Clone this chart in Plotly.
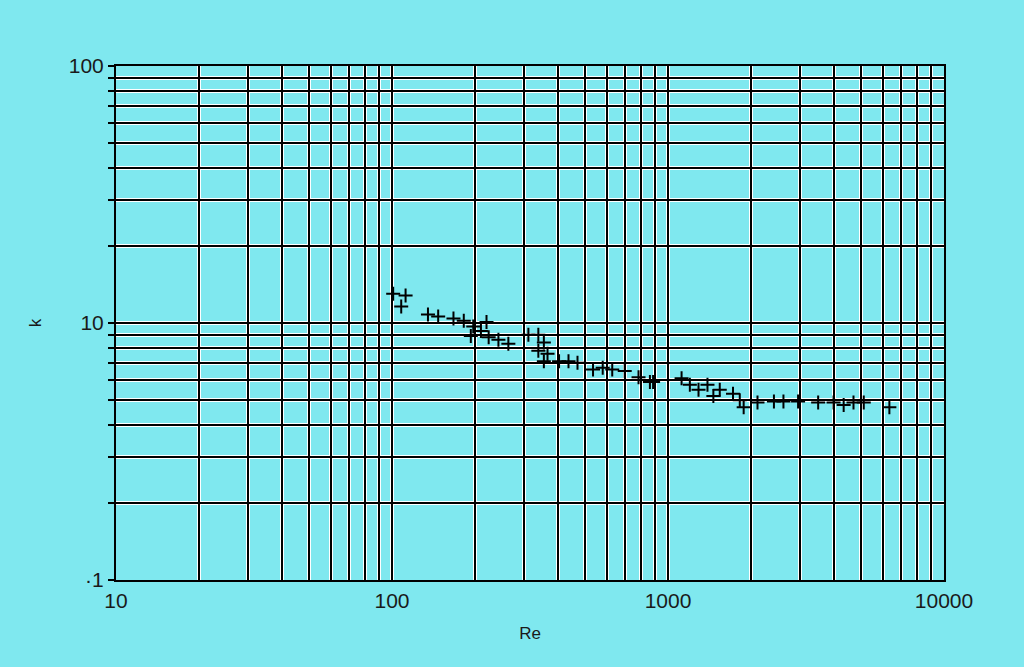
import plotly.graph_objects as go

# Data (Re, k)
re_vals = [101, 112, 108, 135, 147, 167, 182, 197, 210, 220, 193, 224, 243, 264,
           312, 339, 355, 339, 366, 355, 403, 436, 470, 535, 580, 628, 697, 782,
           860, 883, 1120, 1200, 1290, 1390, 1540, 1720, 1820, 1460, 1880, 2110,
           2420, 2620, 2960, 3500, 3980, 4330, 4700, 5120, 6340]
k_vals = [13.0, 12.8, 11.6, 10.8, 10.6, 10.4, 10.2, 9.7, 9.3, 10.1, 8.9, 8.8, 8.6, 8.3,
          9.0, 9.0, 8.4, 7.8, 7.6, 7.1, 7.1, 7.1, 7.0, 6.6, 6.7, 6.6, 6.5, 6.15,
          5.9, 5.9, 6.1, 5.75, 5.5, 5.75, 5.5, 5.3, 5.0, 5.2, 4.7, 4.9,
          4.95, 4.95, 4.95, 4.9, 4.9, 4.8, 4.9, 4.9, 4.7]

x_tickvals = [m * 10 ** e for e in (1, 2, 3) for m in range(1, 10)] + [10000]
x_ticktext = ["10" if v == 10 else "100" if v == 100 else "1000" if v == 1000
              else "10000" if v == 10000 else "" for v in x_tickvals]
y_tickvals = [m * 10 ** e for e in (0, 1) for m in range(1, 10)] + [100]
y_ticktext = ["·1" if v == 1 else "10" if v == 10 else "100" if v == 100 else ""
              for v in y_tickvals]

BG = "#7FE8EF"
FONT = dict(family="Liberation Sans, Arial, sans-serif", size=21, color="#1a1a1a")

fig = go.Figure()
fig.add_trace(go.Scatter(
    x=re_vals, y=k_vals, mode="markers",
    marker=dict(symbol="cross-thin", size=10, line=dict(color="black", width=2)),
    showlegend=False, xaxis="x", yaxis="y",
))
# invisible trace on overlay axes so the black grid is drawn
fig.add_trace(go.Scatter(x=[re_vals[0]], y=[k_vals[0]], mode="markers",
                         marker=dict(opacity=0), showlegend=False,
                         xaxis="x2", yaxis="y2", hoverinfo="skip"))

common_x = dict(type="log", range=[1, 4], tickvals=x_tickvals, zeroline=False)
common_y = dict(type="log", range=[0, 2], tickvals=y_tickvals, zeroline=False)

fig.update_layout(
    width=1024, height=667,
    paper_bgcolor=BG, plot_bgcolor=BG,
    margin=dict(l=116, r=80, t=66, b=87),
    font=FONT,
    xaxis=dict(**common_x, ticktext=x_ticktext, showgrid=True, gridcolor="white",
               gridwidth=4, ticks="", showline=False, ticklabelstandoff=6,
               title=dict(text="Re", font=dict(size=17), standoff=16)),
    yaxis=dict(**common_y, ticktext=y_ticktext, showgrid=True, gridcolor="white",
               gridwidth=4, ticks="outside", ticklen=7, tickcolor="black",
               tickwidth=1.5, showline=False,
               title=dict(text="k", font=dict(size=17), standoff=22)),
    xaxis2=dict(**common_x, overlaying="x", showgrid=True, gridcolor="black",
                gridwidth=2.2, showticklabels=False, ticks="",
                showline=True, linecolor="black", linewidth=2, mirror=True),
    yaxis2=dict(**common_y, overlaying="y", showgrid=True, gridcolor="black",
                gridwidth=1.5, showticklabels=False, ticks="",
                showline=True, linecolor="black", linewidth=2, mirror=True),
)

fig.write_html(
    "out.html",
    config={"displayModeBar": False},
    post_script="document.body.style.margin='0';document.body.style.background='%s';" % BG,
)
